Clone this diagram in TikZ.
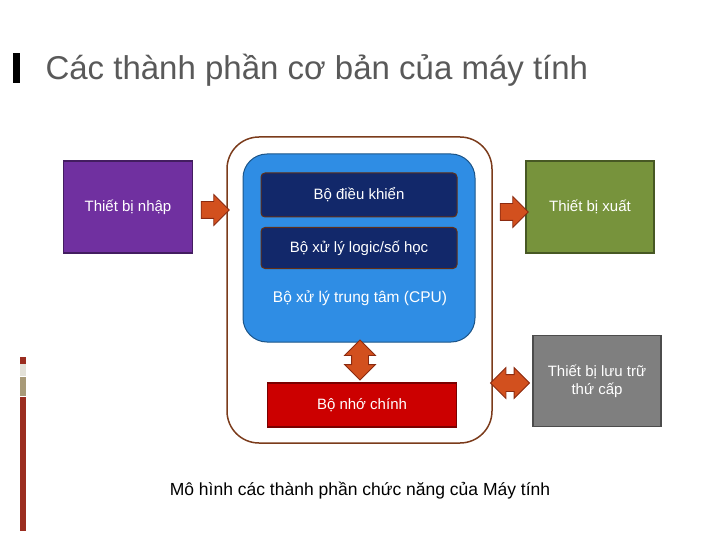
\documentclass[tikz,border=0pt]{standalone}
\usepackage{fontspec}
\setmainfont{Liberation Sans}
\usetikzlibrary{shapes.arrows}

\definecolor{titlegray}{HTML}{595959}
\definecolor{barred}{HTML}{9B2D20}
\definecolor{barlight}{HTML}{E3E1D8}
\definecolor{bartan}{HTML}{A89A78}
\definecolor{inpurple}{HTML}{7030A0}
\definecolor{outolive}{HTML}{77933C}
\definecolor{storgray}{HTML}{7F7F7F}
\definecolor{memred}{HTML}{CC0000}
\definecolor{ctlnavy}{HTML}{12286A}
\definecolor{cpublue}{HTML}{2F8DE4}
\definecolor{framebrown}{HTML}{7B3B1B}
\definecolor{arrfill}{HTML}{D2501E}
\definecolor{arrdraw}{HTML}{8B2A10}

\begin{document}
\begin{tikzpicture}[x=1pt, y=-1pt,
	devbox/.style={draw=#1!60!black, line width=1.2pt, fill=#1, text=white, font=\fontsize{15}{18}\selectfont, align=center, inner sep=0pt},
	unitbox/.style={draw=framebrown!80!black, line width=1pt, fill=ctlnavy, rounded corners=4pt, text=white, font=\fontsize{15}{18}\selectfont, inner sep=0pt},
	blockarrow/.style={single arrow, fill=arrfill, draw=arrdraw, line width=0.8pt, inner xsep=0pt, inner ysep=8pt, single arrow head extend=7pt, minimum height=28pt},
	twoarrow/.style={double arrow, fill=arrfill, draw=arrdraw, line width=0.8pt, inner xsep=0pt, inner ysep=8pt, double arrow head extend=7pt}
	]
	
	\useasboundingbox (0,0) rectangle (720,540);
	
	% title and side bars
	\fill [black] (13,53) rectangle (20,83);
	\node [anchor=base west, text=titlegray, font=\fontsize{33}{40}\selectfont] (title) at (42,80) {Các thành phần cơ bản của máy tính};
	\fill [barred] (20,357) rectangle (26,364);
	\fill [barlight] (20,364) rectangle (26,376);
	\fill [bartan] (20,377) rectangle (26,396);
	\fill [barred] (20,397) rectangle (26,531);
	
	% computer frame and CPU
	\draw [framebrown, line width=1.5pt, fill=white, rounded corners=32pt] (227,137) rectangle (492,443);
	\draw [cpublue!60!black, line width=1pt, fill=cpublue, rounded corners=24pt] (243,154) rectangle (475,342);
	\node [unitbox, minimum width=196pt, minimum height=44pt] (ctl) at (359,195) {Bộ điều khiển};
	\node [unitbox, minimum width=196pt, minimum height=41pt] (alu) at (359,248) {Bộ xử lý logic/số học};
	\node [text=white, font=\fontsize{15.5}{18}\selectfont] (cpu) at (360,298) {Bộ xử lý trung tâm (CPU)};
	\node [devbox=memred, minimum width=189pt, minimum height=44pt] (mem) at (362,405) {Bộ nhớ chính};
	
	% devices
	\node [devbox=inpurple, minimum width=129pt, minimum height=92pt] (in) at (128,207) {Thiết bị nhập};
	\node [devbox=outolive, minimum width=128pt, minimum height=92pt] (out) at (590,207) {Thiết bị xuất};
	\node [devbox=storgray, minimum width=128pt, minimum height=91pt] (store) at (597,381) {Thiết bị lưu trữ\\thứ cấp};
	
	% arrows
	\node [blockarrow] (a1) at (211,210) {};
	\node [blockarrow] (a2) at (510,212) {};
	\node [twoarrow, rotate=90, minimum height=40pt] (a3) at (360,360) {};
	\node [twoarrow, minimum height=39pt] (a4) at (510,383) {};
	
	\node [anchor=base, font=\fontsize{17.5}{20}\selectfont] (caption) at (360,495) {Mô hình các thành phần chức năng của Máy tính};
	\end{tikzpicture}
\end{document}
